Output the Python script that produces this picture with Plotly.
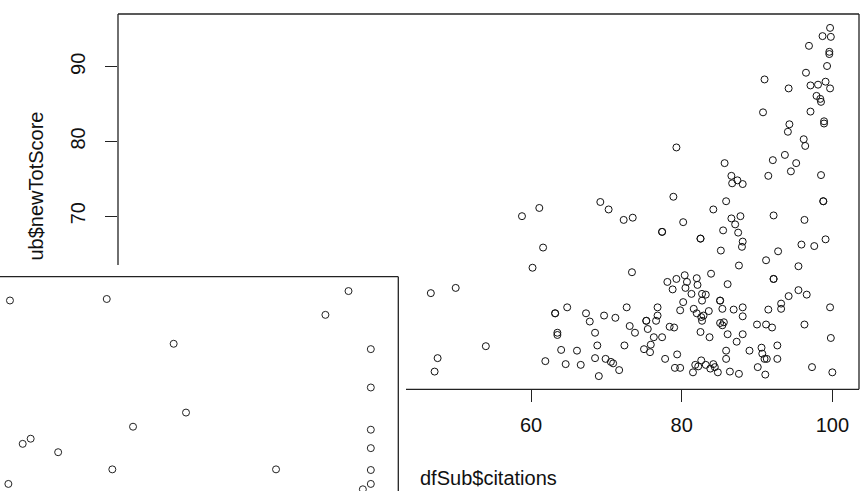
import plotly.graph_objects as go

W, H = 865, 491

# ---- main scatter data: dfSub$citations vs dfSub$newTotScore (visible points) ----
citations = [
    99.7, 98.7, 99.8, 96.9, 99.6, 99.6, 99.3, 96.5, 91.0, 94.2,
    97.1, 98.1, 99.1, 99.7, 97.9, 98.4, 98.5, 97.1, 90.8, 98.9,
    98.9, 94.3, 94.1, 96.2, 96.4, 79.3, 93.7, 92.1, 85.7, 95.2,
    94.5, 91.5, 98.5, 86.6, 86.7, 87.4, 88.1, 78.9, 85.9, 98.8,
    98.8, 69.2, 70.3, 61.1, 84.2, 58.8, 72.3, 73.5, 77.4, 77.4,
    80.2, 82.5, 82.5, 85.5, 86.6, 87.8, 87.1, 87.5, 88.1, 88.0,
    85.2, 92.2, 96.3, 95.9, 97.6, 99.1, 92.8, 91.2, 87.6, 83.9,
    95.5, 92.2, 92.2, 86.1, 61.6, 60.2, 73.4, 46.7, 50.0, 54.0,
    47.6, 47.2, 63.2, 63.2, 64.8, 63.5, 63.5, 61.9, 64.0, 64.6,
    66.1, 66.6, 67.3, 67.8, 68.5, 68.8, 68.5, 69.0, 69.7, 69.9,
    70.6, 70.9, 71.2, 71.7, 72.4, 72.7, 73.1, 73.8, 75.0, 75.3,
    75.3, 75.5, 75.8, 75.9, 76.3, 76.6, 76.8, 76.8, 77.4, 77.8,
    78.4, 79.0, 79.1, 79.4, 79.8, 79.8, 80.2, 78.8, 78.1, 79.3,
    80.4, 80.7, 80.5, 81.3, 82.0, 82.1, 82.7, 83.2, 82.7, 81.6,
    82.0, 82.6, 82.9, 83.6, 82.7, 82.5, 83.7, 81.5, 81.8, 82.2,
    82.6, 83.2, 83.8, 84.2, 84.8, 84.4, 85.1, 85.1, 85.4, 85.1,
    85.6, 85.4, 86.1, 85.9, 85.9, 86.4, 86.9, 87.3, 87.6, 88.1,
    88.1, 88.1, 89.0, 90.0, 90.1, 90.6, 90.7, 91.2, 91.0, 91.3,
    91.1, 91.5, 92.0, 92.7, 92.7, 93.2, 93.2, 94.2, 95.5, 96.6,
    96.3, 97.3, 99.7, 99.8, 100.0,
]
newTotScore = [
    95.2, 94.1, 94.0, 92.8, 92.0, 91.7, 90.1, 89.2, 88.3, 87.1,
    87.5, 87.6, 88.0, 87.1, 86.1, 85.7, 85.3, 84.0, 83.9, 82.7,
    82.4, 82.3, 81.3, 80.3, 79.4, 79.2, 78.2, 77.5, 77.1, 77.1,
    76.0, 75.4, 75.5, 75.4, 74.4, 74.8, 74.3, 72.6, 72.0, 72.0,
    72.0, 71.9, 70.9, 71.1, 70.9, 70.0, 69.5, 69.8, 67.9, 67.9,
    69.2, 67.0, 67.0, 68.1, 69.7, 70.0, 68.9, 67.8, 66.6, 65.9,
    65.4, 70.1, 69.5, 66.2, 66.0, 66.9, 65.3, 64.1, 63.4, 62.3,
    63.3, 61.6, 61.6, 60.9, 65.8, 63.1, 62.5, 59.7, 60.4, 52.6,
    51.0, 49.2, 57.0, 57.0, 57.8, 54.4, 54.1, 50.6, 52.1, 50.2,
    52.0, 50.1, 57.0, 55.9, 54.4, 52.7, 51.0, 48.6, 56.7, 50.9,
    50.5, 50.3, 56.4, 49.4, 52.7, 57.8, 55.3, 54.4, 52.2, 56.0,
    56.0, 54.9, 51.8, 52.8, 53.8, 56.0, 57.8, 56.7, 53.8, 50.9,
    55.2, 55.1, 49.7, 51.5, 49.7, 57.4, 58.5, 60.2, 61.2, 61.6,
    62.1, 61.2, 60.4, 59.6, 61.7, 60.8, 59.6, 59.5, 58.7, 57.6,
    57.0, 56.5, 56.7, 57.3, 56.0, 54.5, 53.8, 49.1, 50.1, 49.9,
    50.7, 50.1, 49.6, 50.2, 49.1, 49.8, 58.7, 58.7, 57.6, 55.7,
    55.8, 55.4, 54.2, 52.0, 50.9, 49.2, 57.5, 53.2, 48.9, 57.8,
    56.6, 54.2, 52.0, 55.5, 49.8, 52.4, 51.6, 55.5, 50.9, 50.9,
    48.8, 57.5, 55.1, 52.7, 50.9, 58.3, 57.6, 59.3, 60.1, 59.5,
    55.5, 49.8, 57.8, 53.7, 49.1,
]

# ---- overlapping second window (inset plot), only the visible points ----
inset_x = [2.5, 26.8, 87.5, 81.7, 43.6, 93.1, 93.1, 46.7, 33.4, 93.1,
           7.7, 5.7, 93.1, 14.6, 28.2, 69.3, 93.1, 2.1, 93.1, 91.1]
inset_y = [88.9, 89.6, 93.3, 82.2, 68.7, 66.2, 48.3, 36.6, 30.0, 28.6,
           24.4, 22.0, 20.0, 18.1, 10.1, 10.1, 9.8, 3.3, 3.3, 0.8]

x_ticks = [60, 80, 100]
y_ticks = [70, 80, 90]

FONT = "Liberation Sans, Arial, sans-serif"


def px(x):
    return x / W


def py(y):
    return (H - y) / H


# main plot area (pixels)
L, R, T, B = 118, 859, 14, 389.3
# inset window edges
INSET_R, INSET_T = 398.3, 276.7
COVER_R, COVER_T = 406, 265

fig = go.Figure()
fig.add_trace(go.Scatter(
    x=citations, y=newTotScore, mode="markers",
    marker=dict(symbol="circle-open", size=7, color="#111",
                line=dict(width=1, color="#111")),
    xaxis="x", yaxis="y", hoverinfo="skip", showlegend=False))

fig.add_trace(go.Scatter(
    x=inset_x, y=inset_y, mode="markers",
    marker=dict(symbol="circle-open", size=7, color="#222",
                line=dict(width=1, color="#222")),
    xaxis="x2", yaxis="y2", hoverinfo="skip", showlegend=False))

line_col = "#222"
shapes = [
    # main frame (partly hidden by the overlapping window)
    dict(type="line", xref="paper", yref="paper", x0=px(L), x1=px(R), y0=py(T), y1=py(T)),
    dict(type="line", xref="paper", yref="paper", x0=px(R), x1=px(R), y0=py(T), y1=py(B)),
    dict(type="line", xref="paper", yref="paper", x0=px(COVER_R), x1=px(R), y0=py(B), y1=py(B)),
    dict(type="line", xref="paper", yref="paper", x0=px(L), x1=px(L), y0=py(T), y1=py(COVER_T)),
    # inset frame
    dict(type="line", xref="paper", yref="paper", x0=0, x1=px(INSET_R), y0=py(INSET_T), y1=py(INSET_T)),
    dict(type="line", xref="paper", yref="paper", x0=px(INSET_R), x1=px(INSET_R), y0=py(INSET_T), y1=0),
]
for s in shapes:
    s["line"] = dict(color=line_col, width=1.3)

fig.update_layout(
    width=W, height=H, autosize=False,
    margin=dict(l=0, r=0, t=0, b=0),
    paper_bgcolor="white", plot_bgcolor="rgba(0,0,0,0)",
    font=dict(family=FONT, size=20, color="#111"),
    showlegend=False,
    xaxis=dict(domain=[px(L), px(R)], range=[5.17, 103.54], anchor="y",
               tickmode="array", tickvals=x_ticks, ticktext=[str(v) for v in x_ticks],
               ticks="outside", ticklen=12, tickwidth=1.2, tickcolor=line_col,
               showgrid=False, zeroline=False, showline=False,
               ticklabelstandoff=6,
               tickfont=dict(family=FONT, size=20, color="#111")),
    yaxis=dict(domain=[py(B), py(T)], range=[46.83, 97.06], anchor="x",
               tickmode="array", tickvals=y_ticks, ticktext=[str(v) for v in y_ticks],
               ticks="outside", ticklen=12, tickwidth=1.2, tickcolor=line_col,
               tickangle=-90,
               showgrid=False, zeroline=False, showline=False,
               ticklabelstandoff=12,
               tickfont=dict(family=FONT, size=20, color="#111")),
    xaxis2=dict(domain=[0, px(INSET_R)], range=[0, 100], anchor="y2",
                showticklabels=False, ticks="", showgrid=False, zeroline=False, showline=False),
    yaxis2=dict(domain=[0, py(INSET_T)], range=[0, 100], anchor="x2",
                showticklabels=False, ticks="", showgrid=False, zeroline=False, showline=False),
    shapes=shapes,
    annotations=[
        dict(text="dfSub$citations", xref="paper", yref="paper",
             x=px((L + R) / 2), y=py(478), xanchor="center", yanchor="middle",
             showarrow=False, font=dict(family=FONT, size=20, color="#111")),
        dict(text="ub$newTotScore", xref="paper", yref="paper",
             x=px(35), y=py(110), xanchor="center", yanchor="top", textangle=-90,
             showarrow=False, font=dict(family=FONT, size=20, color="#111")),
    ],
)

fig.write_html("out.html")
